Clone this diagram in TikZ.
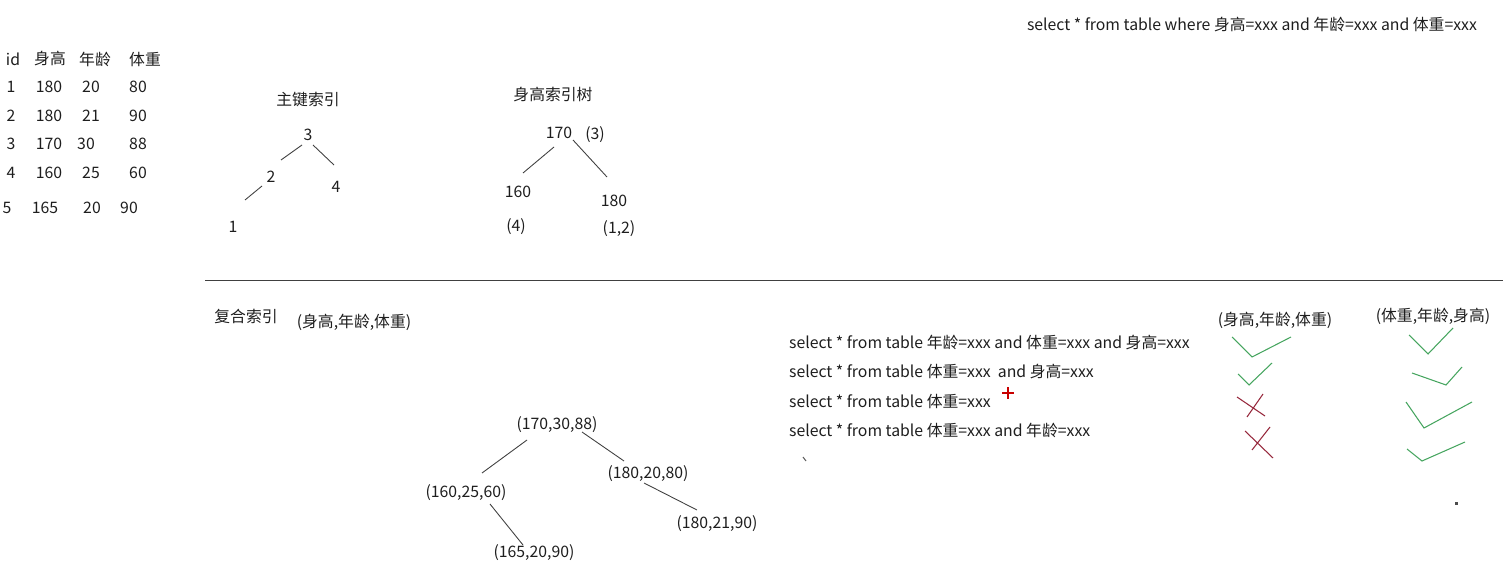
\documentclass[tikz,border=0pt]{standalone}
\usepackage{fontspec}
\setmainfont{Noto Sans CJK SC}
\definecolor{ink}{RGB}{30,30,30}
\definecolor{okgreen}{RGB}{70,165,95}
\definecolor{nored}{RGB}{150,40,60}
\definecolor{plusred}{RGB}{200,0,0}

\begin{document}
\begin{tikzpicture}[x = .02cm, y = -.02cm]
		\tikzstyle{every node} = [font = \fontsize{9}{11}\selectfont, text = ink, inner sep = 1pt]
		\tikzstyle{edge} = [draw = ink!85, line width = .5pt]
		\tikzstyle{tick} = [okgreen, line width = .6pt]
		\tikzstyle{cross} = [nored, line width = .6pt]
		\useasboundingbox (0,0) rectangle (1508,588);

		% table
		\node (hid) at (13,59) {id};
		\node (hh) at (50,59) {身高};
		\node (ha) at (95,59) {年龄};
		\node (hw) at (145,59) {体重};
		\foreach \i/\y/\xi/\h/\xh/\a/\xa/\w/\xw in {1/87/11/180/49/20/91/80/138, 2/116/11/180/49/21/91/90/138, 3/144/11/170/49/30/86/88/138, 4/173/11/160/49/25/91/60/138, 5/208/7/165/45/20/92/90/129}
		{
			\node (id\i) at (\xi,\y) {\i};
			\node (h\i) at (\xh,\y) {\h};
			\node (a\i) at (\xa,\y) {\a};
			\node (w\i) at (\xw,\y) {\w};
		}

		% primary key tree
		\node (pk) at (308,100) {主键索引};
		\node (t3) at (308,135) {3};
		\node (t2) at (271,177) {2};
		\node (t4) at (336,187) {4};
		\node (t1) at (233,227) {1};
		\draw [edge] ([shift={(-6,10)}]t3.center) -- ([shift={(10,-17)}]t2.center); %3 to 2
		\draw [edge] ([shift={(5,10)}]t3.center) -- ([shift={(-2,-22)}]t4.center); %3 to 4
		\draw [edge] ([shift={(-9,9)}]t2.center) -- ([shift={(12,-27)}]t1.center); %2 to 1

		% height tree
		\node (hi) at (553,95) {身高索引树};
		\node (s170) at (559,133) {170};
		\node (r170) at (595,135) {(3)};
		\node (s160) at (518,192) {160};
		\node (s180) at (614,201) {180};
		\node (r160) at (516,227) {(4)};
		\node (r180) at (619,229) {(1,2)};
		\draw [edge] ([shift={(-5,14)}]s170.center) -- ([shift={(5,-19)}]s160.center);
		\draw [edge] ([shift={(14,7)}]s170.center) -- ([shift={(-7,-24)}]s180.center);

		\node (q0) at (1252,25) {select * from table where 身高=xxx and 年龄=xxx and 体重=xxx};

		\draw [edge] (205,280) -- (1503,280);

		% composite index
		\node (ci) at (246,316) {复合索引};
		\node (cols) at (354,322) {(身高,年龄,体重)};
		\node (c1) at (557,425) {(170,30,88)};
		\node (c2) at (466,493) {(160,25,60)};
		\node (c3) at (648,474) {(180,20,80)};
		\node (c4) at (534,553) {(165,20,90)};
		\node (c5) at (717,524) {(180,21,90)};
		\draw [edge] ([shift={(-30,15)}]c1.center) -- ([shift={(16,-20)}]c2.center);
		\draw [edge] ([shift={(25,7)}]c1.center) -- ([shift={(-24,-13)}]c3.center);
		\draw [edge] ([shift={(24,11)}]c2.center) -- ([shift={(-11,-8)}]c4.center);
		\draw [edge] ([shift={(-4,9)}]c3.center) -- ([shift={(-20,-14)}]c5.center);

		% queries
		\node [anchor = west] (q1) at (787,343) {select * from table 年龄=xxx and 体重=xxx and 身高=xxx};
		\node [anchor = west] (q2) at (787,372) {select * from table 体重=xxx\ \ and 身高=xxx};
		\node [anchor = west] (q3) at (787,401) {select * from table 体重=xxx};
		\node [anchor = west] (q4) at (787,430) {select * from table 体重=xxx and 年龄=xxx};
		\draw [plusred, line width = 1.4pt] (1008,387) -- (1008,399) (1002,393) -- (1014,393);
		\draw [ink!70, line width = .6pt] (803,457) -- (806,461);

		% results
		\node (k1) at (1275,320) {(身高,年龄,体重)};
		\node (k2) at (1433,316) {(体重,年龄,身高)};
		\draw [tick] (1232,337) -- (1252,357) -- (1291,337);
		\draw [tick] (1238,374) -- (1249,385) -- (1272,363);
		\draw [cross] (1237,397) -- (1265,416) (1263,394) -- (1247,417);
		\draw [cross] (1245,431) -- (1273,458) (1270,427) -- (1252,450);
		\draw [tick] (1409,335) -- (1428,354) -- (1453,328);
		\draw [tick] (1412,373) -- (1446,385) -- (1462,367);
		\draw [tick] (1406,402) -- (1424,428) -- (1472,402);
		\draw [tick] (1407,449) -- (1422,461) -- (1465,442);
		\fill [ink!80] (1455,502) rectangle (1458,505);
	\end{tikzpicture}
\end{document}
